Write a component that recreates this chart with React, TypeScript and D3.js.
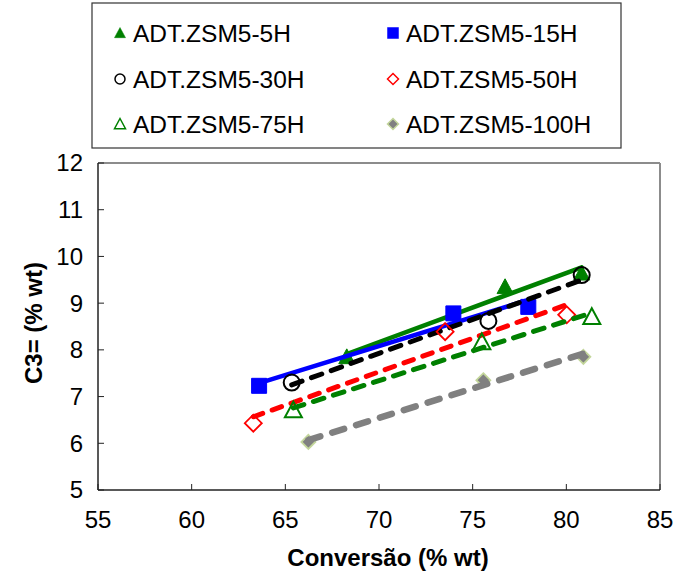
import React from "react";
import * as d3 from "d3";

const seriesNames = ["ADT.ZSM5-5H", "ADT.ZSM5-15H", "ADT.ZSM5-30H", "ADT.ZSM5-50H", "ADT.ZSM5-75H", "ADT.ZSM5-100H"];
const conv5H = [68.28, 76.73, 80.82];
const c3_5H = [7.85, 9.35, 9.64];
const conv15H = [63.6, 73.97, 77.97];
const c3_15H = [7.23, 8.78, 8.92];
const conv30H = [65.34, 75.84, 80.82];
const c3_30H = [7.3, 8.62, 9.6];
const conv50H = [63.29, 73.53, 80.02];
const c3_50H = [6.43, 8.39, 8.75];
const conv75H = [65.43, 75.49, 81.36];
const c3_75H = [6.71, 8.17, 8.71];
const conv100H = [66.23, 75.57, 80.91];
const c3_100H = [6.03, 7.35, 7.85];

const xTicks = [55, 60, 65, 70, 75, 80, 85];
const yTicks = [5, 6, 7, 8, 9, 10, 11, 12];

type Style = { marker: string; fill: string; stroke: string; line: string; width: number; dash: string | null; size: number; sw: number };
const styles: Style[] = [
  { marker: "tri", fill: "#008000", stroke: "#008000", line: "#008000", width: 4.5, dash: null, size: 16, sw: 1 },
  { marker: "sq", fill: "#0000ff", stroke: "#0000ff", line: "#0000ff", width: 4.5, dash: null, size: 15, sw: 1 },
  { marker: "circ", fill: "none", stroke: "#000000", line: "#000000", width: 5, dash: "11 10", size: 16, sw: 2 },
  { marker: "dia", fill: "none", stroke: "#ff0000", line: "#ff0000", width: 5, dash: "10 10", size: 17, sw: 1.8 },
  { marker: "tri", fill: "none", stroke: "#008000", line: "#008000", width: 5, dash: "11 10", size: 17, sw: 2 },
  { marker: "dia", fill: "#808080", stroke: "#c3d69b", line: "#808080", width: 6.5, dash: "12.5 12.5", size: 14, sw: 1.8 },
];
const xsAll = [conv5H, conv15H, conv30H, conv50H, conv75H, conv100H];
const ysAll = [c3_5H, c3_15H, c3_30H, c3_50H, c3_75H, c3_100H];

function markerPath(kind: string, cx: number, cy: number, s: number): string {
  const h = s / 2;
  if (kind === "tri") {
    return `M${cx},${cy - h}L${cx + h},${cy + h * 0.85}L${cx - h},${cy + h * 0.85}Z`;
  }
  if (kind === "sq") return `M${cx - h},${cy - h}h${s}v${s}h${-s}Z`;
  if (kind === "dia") return `M${cx},${cy - h}L${cx + h},${cy}L${cx},${cy + h}L${cx - h},${cy}Z`;
  return "";
}

function Marker({ kind, cx, cy, s, fill, stroke, sw }: any) {
  if (kind === "circ") return <circle cx={cx} cy={cy} r={s / 2} fill={fill} stroke={stroke} strokeWidth={sw} />;
  return <path d={markerPath(kind, cx, cy, s)} fill={fill} stroke={stroke} strokeWidth={sw} strokeLinejoin="miter" />;
}

function fit(xs: number[], ys: number[]) {
  const mx = d3.mean(xs)!;
  const my = d3.mean(ys)!;
  let sxy = 0, sxx = 0;
  xs.forEach((x, i) => { sxy += (x - mx) * (ys[i] - my); sxx += (x - mx) * (x - mx); });
  const b = sxy / sxx;
  return (x: number) => my + b * (x - mx);
}

export default function App() {
  const left = 98, right = 660, top = 163, bottom = 490;
  const x = d3.scaleLinear().domain([55, 85]).range([left, right]);
  const y = d3.scaleLinear().domain([5, 12]).range([bottom, top]);
  const font = "'Liberation Sans', Arial, sans-serif";

  const legendPos = [
    [120, 33], [393, 33], [120, 79], [393, 79], [120, 124], [393, 124],
  ];

  return (
    <svg width={680} height={571} style={{ position: "absolute", left: 0, top: 0, background: "#fff" }} fontFamily={font}>
      <rect width={680} height={571} fill="#fff" />
      <line x1={left} y1={top} x2={right} y2={top} stroke="#8c8c8c" strokeWidth={2} />
      <line x1={right} y1={top} x2={right} y2={bottom} stroke="#8c8c8c" strokeWidth={2} />
      <line x1={left} y1={top} x2={left} y2={bottom} stroke="#222" strokeWidth={1.5} />
      <line x1={left} y1={bottom} x2={right} y2={bottom} stroke="#222" strokeWidth={1.5} />
      {yTicks.map((t) => (
        <g key={"y" + t}>
          <line x1={left} x2={left + 6} y1={y(t)} y2={y(t)} stroke="#222" strokeWidth={1} />
          <text x={83} y={y(t)} dy="0.35em" textAnchor="end" fontSize={24}>{t}</text>
        </g>
      ))}
      {xTicks.map((t) => (
        <g key={"x" + t}>
          <line x1={x(t)} x2={x(t)} y1={bottom} y2={bottom - 6} stroke="#222" strokeWidth={1} />
          <text x={x(t)} y={528} textAnchor="middle" fontSize={24}>{t}</text>
        </g>
      ))}
      <text x={388} y={566} textAnchor="middle" fontSize={24} fontWeight="bold">Conversão (% wt)</text>
      <text transform={`translate(42,323) rotate(-90)`} textAnchor="middle" fontSize={24} fontWeight="bold">C3= (% wt)</text>

      {styles.map((st, i) => {
        const xs = xsAll[i];
        const ys = ysAll[i];
        const f = fit(xs, ys);
        const x0 = d3.min(xs)!, x1 = d3.max(xs)!;
        return (
          <g key={"s" + i}>
            {xs.map((xv, j) => (
              <Marker key={j} kind={st.marker} cx={x(xv)} cy={y(ys[j])} s={st.size} fill={st.fill} stroke={st.stroke} sw={st.sw} />
            ))}
            <line x1={x(x0)} y1={y(f(x0))} x2={x(x1)} y2={y(f(x1))} stroke={st.line} strokeWidth={st.width}
              strokeDasharray={st.dash ?? undefined} strokeLinecap="round" />
          </g>
        );
      })}

      <rect x={92} y={3} width={529} height={145} fill="#fff" stroke="#333" strokeWidth={1.2} />
      {styles.map((st, i) => {
        const [lx, ly] = legendPos[i];
        return (
          <g key={"l" + i}>
            <Marker kind={st.marker} cx={lx} cy={ly} s={st.marker === "circ" ? 10 : 11} fill={st.fill} stroke={st.stroke} sw={st.marker === "sq" || (st.marker === "tri" && st.fill !== "none") ? 0.5 : 1.5} />
            <text x={lx + 13} y={ly} dy="0.36em" fontSize={24.5}>{seriesNames[i]}</text>
          </g>
        );
      })}
    </svg>
  );
}
